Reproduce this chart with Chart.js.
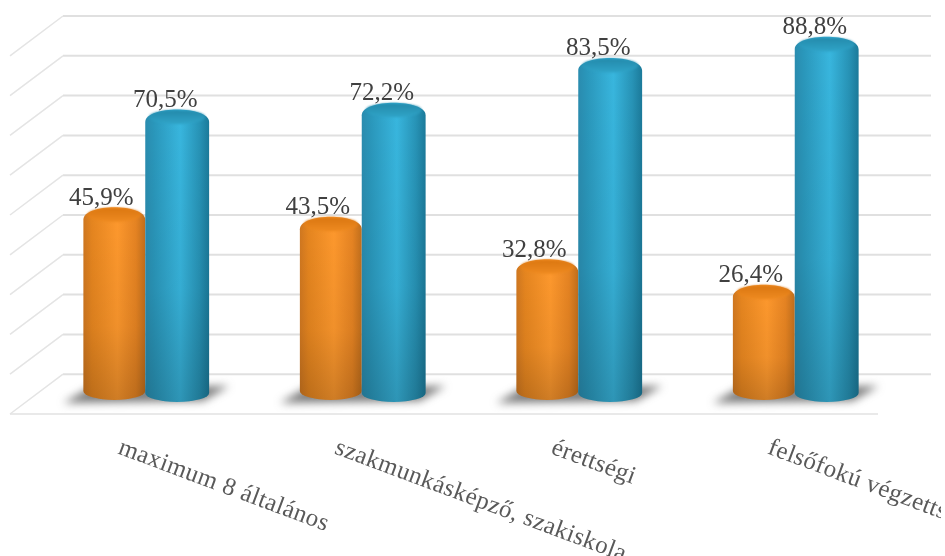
<!DOCTYPE html>
<html>
<head>
<meta charset="utf-8">
<title>Végzettség szerinti arányok</title>
<script src="https://cdn.jsdelivr.net/npm/chart.js@4"></script>
<style>
  body { margin: 0; background: #fff; }
  canvas { display: block; }
</style>
</head>
<body>
<canvas id="chart" width="945" height="556"></canvas>
<script>
const categories = ['maximum 8 általános', 'szakmunkásképző, szakiskola', 'érettségi', 'felsőfokú végzettség'];
const orangeValues = [45.9, 43.5, 32.8, 26.4];
const blueValues = [70.5, 72.2, 83.5, 88.8];

const orangeLook = {
  side: ['#cf7720', '#e5851f', '#fd982d', '#e58322', '#c06e1c'],
  cap: ['#f28e24', '#d9750f'],
  inset: 2,
  lift: 7
};
const blueLook = {
  side: ['#2a8caf', '#2a97bb', '#38b6de', '#2793b6', '#1b7a9a'],
  cap: ['#33aace', '#2287a8'],
  inset: 0,
  lift: 5
};

const CAP_RY = 9;
const WALL_DEPTH_X = 53;
const FLOOR_VALUE = -10;

function percentText(v) {
  return v.toFixed(1).replace('.', ',') + '%';
}

function drawWalls(chart) {
  const ctx = chart.ctx;
  const wall = chart.scales.y2;
  const left = 10, right = 878;
  ctx.save();
  ctx.lineCap = 'butt';
  wall.ticks.forEach(tick => {
    const y = wall.getPixelForValue(tick.value);
    ctx.beginPath();
    if (tick.value === FLOOR_VALUE) {
      ctx.strokeStyle = '#e2e2e2';
      ctx.lineWidth = 1.5;
      ctx.moveTo(left, y);
      ctx.lineTo(right, y);
    } else {
      ctx.strokeStyle = '#e0e0e0';
      ctx.lineWidth = 2;
      ctx.moveTo(left + WALL_DEPTH_X, y);
      ctx.lineTo(right + WALL_DEPTH_X, y);
      ctx.stroke();
      // side wall runs forward and down to the next level
      ctx.beginPath();
      ctx.strokeStyle = '#e4e4e4';
      ctx.lineWidth = 1.5;
      ctx.moveTo(left + WALL_DEPTH_X, y);
      ctx.lineTo(left, wall.getPixelForValue(tick.value - 10));
    }
    ctx.stroke();
  });
  ctx.restore();
}

function drawShadow(ctx, orangeBar, blueBar) {
  const y = blueBar.base - blueLook.lift;
  const l = orangeBar.x - orangeBar.width / 2;
  const r = blueBar.x + blueBar.width / 2;
  ctx.save();
  ctx.filter = 'blur(4px)';
  ctx.fillStyle = 'rgba(70,70,70,0.72)';
  ctx.beginPath();
  ctx.moveTo(l - 18, y + 10);
  ctx.lineTo(l + 8, y - 5);
  ctx.lineTo(r + 20, y - 7);
  ctx.lineTo(r - 6, y + 8);
  ctx.closePath();
  ctx.fill();
  ctx.restore();
}

function drawCylinder(ctx, bar, look) {
  const left = bar.x - bar.width / 2 + look.inset;
  const right = bar.x + bar.width / 2;
  const cx = (left + right) / 2, rx = (right - left) / 2;
  const topY = bar.y, baseY = bar.base - look.lift;

  ctx.save();
  ctx.beginPath();
  ctx.moveTo(left, topY + 4);
  ctx.lineTo(left, baseY);
  ctx.ellipse(cx, baseY, rx, CAP_RY, 0, Math.PI, 0, true);
  ctx.lineTo(right, topY + 4);
  // rounded shoulders up to the top face
  ctx.bezierCurveTo(right, topY - 12.7, left, topY - 12.7, left, topY + 4);
  ctx.closePath();

  const side = ctx.createLinearGradient(left, 0, right, 0);
  const stops = [0, 0.14, 0.55, 0.85, 1];
  look.side.forEach((c, i) => side.addColorStop(stops[i], c));
  ctx.fillStyle = side;
  ctx.fill();

  // darkens toward the floor
  const shade = ctx.createLinearGradient(0, topY, 0, baseY + CAP_RY);
  shade.addColorStop(0, 'rgba(0,0,0,0)');
  shade.addColorStop(0.6, 'rgba(0,0,0,0.05)');
  shade.addColorStop(1, 'rgba(0,0,0,0.18)');
  ctx.fillStyle = shade;
  ctx.fill();

  // top face sits inside the bevel
  const cap = ctx.createLinearGradient(0, topY - CAP_RY, 0, topY + CAP_RY);
  cap.addColorStop(0, look.cap[1]);
  cap.addColorStop(1, look.cap[0]);
  ctx.filter = 'blur(1px)';
  ctx.fillStyle = cap;
  ctx.beginPath();
  ctx.ellipse(cx, topY - 1, rx - 4, CAP_RY - 2, 0, 0, Math.PI * 2);
  ctx.fill();
  ctx.restore();
}

const cylinders = {
  id: 'cylinders',
  beforeDatasetsDraw(chart) {
    const ctx = chart.ctx;
    const orangeBars = chart.getDatasetMeta(0).data;
    const blueBars = chart.getDatasetMeta(1).data;

    drawWalls(chart);
    orangeBars.forEach((bar, i) => drawShadow(ctx, bar, blueBars[i]));

    orangeBars.forEach((bar, i) => {
      drawCylinder(ctx, bar, orangeLook);
      drawCylinder(ctx, blueBars[i], blueLook);
    });

    ctx.save();
    ctx.font = '25px "Liberation Serif"';
    ctx.fillStyle = '#404040';
    ctx.textAlign = 'center';
    ctx.textBaseline = 'alphabetic';
    [[orangeBars, orangeValues], [blueBars, blueValues]].forEach(([bars, values]) => {
      bars.forEach((bar, i) => ctx.fillText(percentText(values[i]), bar.x - 12, bar.y - 11));
    });
    ctx.restore();

    // slanted category names under the floor, cut off near the right edge
    const xAxis = chart.scales.x;
    ctx.save();
    ctx.beginPath();
    ctx.rect(0, 0, 941, 556);
    ctx.clip();
    ctx.font = '25px "Liberation Serif"';
    ctx.letterSpacing = '0.4px';
    ctx.fillStyle = '#595959';
    ctx.textAlign = 'left';
    ctx.textBaseline = 'middle';
    categories.forEach((name, i) => {
      ctx.save();
      ctx.translate(xAxis.getPixelForTick(i) - 26, 447);
      ctx.rotate(20.5 * Math.PI / 180);
      ctx.fillText(name, 0, 0);
      ctx.restore();
    });
    ctx.restore();

    // the library's flat rectangles are replaced by the cylinders above
    return false;
  }
};

new Chart(document.getElementById('chart'), {
  type: 'bar',
  data: {
    labels: categories,
    datasets: [
      { data: orangeValues, backgroundColor: '#f08a24', yAxisID: 'y' },
      { data: blueValues, backgroundColor: '#2fa4c8', yAxisID: 'y' }
    ]
  },
  options: {
    responsive: false,
    animation: false,
    layout: { padding: { left: 37, right: 42, top: 16, bottom: 142 } },
    categoryPercentage: 0.59,
    barPercentage: 1,
    plugins: { legend: { display: false }, tooltip: { enabled: false } },
    scales: {
      x: { display: false },
      y: { display: false, min: -4.03, max: 96.2 },
      y2: { display: false, min: FLOOR_VALUE, max: 90, ticks: { stepSize: 10 } }
    }
  },
  plugins: [cylinders]
});
</script>
</body>
</html>
